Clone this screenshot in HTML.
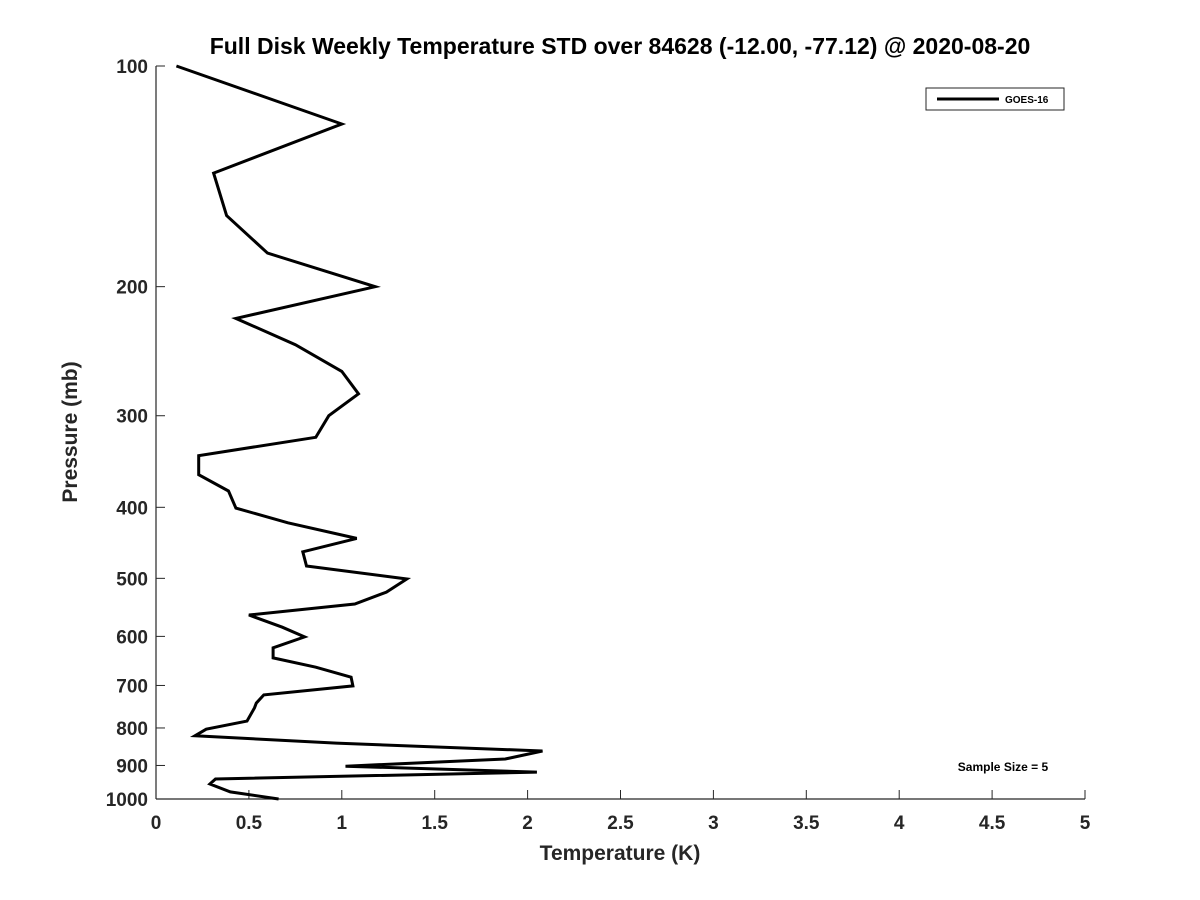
<!DOCTYPE html>
<html><head><meta charset="utf-8"><style>
body{margin:0;background:#fff;}
svg{display:block;font-family:"Liberation Sans","DejaVu Sans",sans-serif;}
</style></head><body>
<svg id="chart" width="1200" height="900" viewBox="0 0 1200 900">
<rect width="1200" height="900" fill="#fff"/>
<text x="620" y="54" text-anchor="middle" font-size="23" font-weight="bold" fill="#000">Full Disk Weekly Temperature STD over 84628 (-12.00, -77.12) @ 2020-08-20</text>
<g id="axes"></g>
<g id="series"></g>
<text x="620" y="860" text-anchor="middle" font-size="21" font-weight="bold" fill="#262626">Temperature (K)</text>
<text transform="translate(77,432) rotate(-90)" text-anchor="middle" font-size="21" font-weight="bold" fill="#262626">Pressure (mb)</text>
<g>
<rect x="926" y="88" width="138" height="22" fill="#fff" stroke="#262626" stroke-width="1"/>
<line x1="937" y1="99" x2="999" y2="99" stroke="#000" stroke-width="3"/>
<text x="1005" y="103" font-size="10" font-weight="bold" fill="#000">GOES-16</text>
</g>
<text x="1003" y="771" text-anchor="middle" font-size="12" font-weight="bold" fill="#000">Sample Size = 5</text>
</svg>
<script>
const pressures=[100,120,140,160,180,200,221,240,261,280,300,321,340,361,380,401,420,441,460,481,501,522,542,561,583,601,622,642,661,682,701,721,740,751,783,803,820,839,860,882,902,919,939,954,978,1000];
const temps=[0.11,1.0,0.31,0.38,0.6,1.18,0.43,0.75,1.0,1.09,0.93,0.86,0.23,0.23,0.39,0.43,0.71,1.08,0.79,0.81,1.35,1.24,1.07,0.5,0.68,0.8,0.63,0.63,0.86,1.05,1.06,0.58,0.54,0.53,0.49,0.27,0.21,0.97,2.08,1.88,1.02,2.05,0.32,0.29,0.4,0.66];
const xTicks=[0,0.5,1,1.5,2,2.5,3,3.5,4,4.5,5];
const xTickLabels=["0","0.5","1","1.5","2","2.5","3","3.5","4","4.5","5"];
const yTicks=[100,200,300,400,500,600,700,800,900,1000];
const yTickLabels=["100","200","300","400","500","600","700","800","900","1000"];
const X0=156,X1=1085,Y0=66,Y1=799;
function xs(v){return X0+(v-0)/(5-0)*(X1-X0);}
function ys(p){return Y0+(Math.log10(p)-2)/(3-2)*(Y1-Y0);}
const NS="http://www.w3.org/2000/svg";
const ax=document.getElementById('axes');
function mk(t,a,parent){const e=document.createElementNS(NS,t);for(const k in a)e.setAttribute(k,a[k]);parent.appendChild(e);return e;}
const la=mk('line',{x1:X0,y1:Y0,x2:X0,y2:Y1,stroke:'#262626','stroke-width':1.2},ax);


const lb=mk('line',{x1:X0,y1:Y1,x2:X1,y2:Y1,stroke:'#262626','stroke-width':1.2},ax);


xTicks.forEach((v,i)=>{
 const t=mk('line',{x1:xs(v),y1:Y1,x2:xs(v),y2:Y1-9,stroke:'#262626','stroke-width':1},ax);
 
 
 const l=mk('text',{x:xs(v),y:Y1+30,'text-anchor':'middle','font-size':19,'font-weight':'bold',fill:'#262626'},ax);
 l.textContent=xTickLabels[i];
 
 
});
yTicks.forEach((v,i)=>{
 const t=mk('line',{x1:X0,y1:ys(v),x2:X0+9,y2:ys(v),stroke:'#262626','stroke-width':1},ax);
 
 
 const l=mk('text',{x:X0-8,y:ys(v)+7,'text-anchor':'end','font-size':19,'font-weight':'bold',fill:'#262626'},ax);
 l.textContent=yTickLabels[i];
 
 
});
const pts=temps.map((t,i)=>xs(t).toFixed(1)+','+ys(pressures[i]).toFixed(1)).join(' ');
const pl=mk('polyline',{points:pts,fill:'none',stroke:'#000','stroke-width':3,'stroke-linejoin':'miter'},document.getElementById('series'));


</script>
</body></html>
